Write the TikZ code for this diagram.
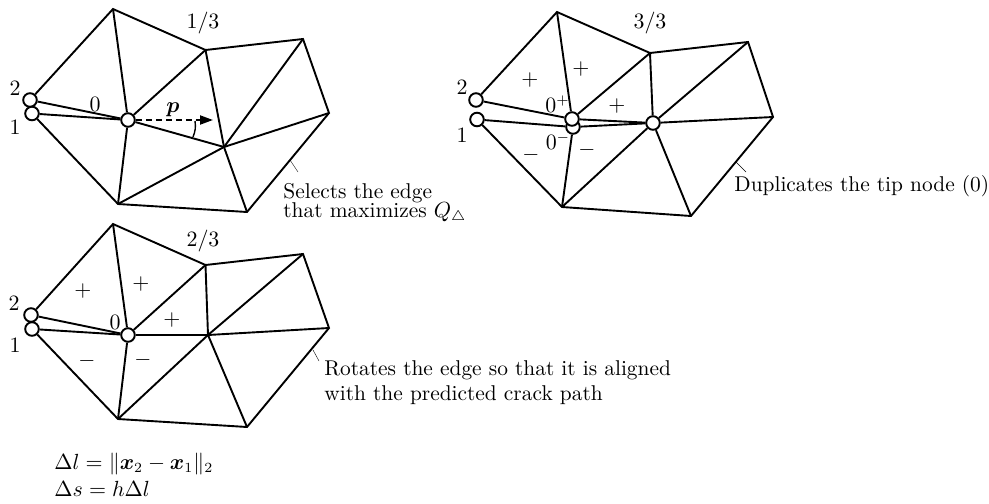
\documentclass[tikz,border=0pt]{standalone}
\usepackage{amsmath,amssymb,bm}
\usetikzlibrary{arrows.meta}
\tikzset{
  crack/.style={circle,draw,fill=white,line width=0.95pt,minimum size=6.8pt,inner sep=0pt},
  edge/.style={line width=0.95pt},
  leader/.style={line width=0.2pt},
  lbl/.style={inner sep=0pt,font=\fontsize{10.7}{13}\selectfont},
  note/.style={inner sep=0pt,anchor=base west,font=\fontsize{10.7}{13}\selectfont}
}
\begin{document}
\begin{tikzpicture}[x=0.5pt,y=-0.5pt]
\useasboundingbox (0,0) rectangle (989,503);

% step 1/3
\coordinate (a1) at (113,9);
\coordinate (b1) at (205.5,50);
\coordinate (c1) at (303,39);
\coordinate (d1) at (329,113);
\coordinate (e1) at (247,212);
\coordinate (f1) at (118,204);
\coordinate (g1) at (224,147);
\node[crack] (two1) at (30,100) {};
\node[crack] (one1) at (32,113.5) {};
\node[crack] (tip1) at (128,120) {};
\draw[edge] (two1) -- (a1) -- (b1) -- (c1) -- (d1) -- (e1) -- (f1) -- (one1);
\draw[edge] (two1) -- (tip1);
\draw[edge] (one1) -- (tip1);
\draw[edge] (a1) -- (tip1);
\draw[edge] (b1) -- (tip1);
\draw[edge] (f1) -- (tip1);
\draw[edge] (g1) -- (tip1);
\draw[edge] (b1) -- (g1);
\draw[edge] (c1) -- (g1);
\draw[edge] (d1) -- (g1);
\draw[edge] (e1) -- (g1);
\draw[edge] (f1) -- (g1);
\coordinate (p1) at (213,120);
\draw[edge,densely dashed,-{Triangle[length=6.5pt,width=4.5pt]}] (tip1) -- (p1);
\coordinate (s1) at (193,137);
\coordinate (s2) at (195,121);
\draw[line width=0.7pt] (s1) to[bend right=15] (s2);
\node[lbl] (n13) at (203,23) {$1/3$};
\node[lbl] at (15,88) {$2$};
\node[lbl] at (15,127) {$1$};
\node[lbl] at (95,104) {$0$};
\node[lbl] at (173,110) {$\bm{p}$};
\coordinate (q1) at (290,160);
\coordinate (q2) at (298,172);
\draw[leader] (q1) -- (q2);
\node[note] (sel1) at (283,198) {Selects the edge};
\node[note] (sel2) at (283,217) {that maximizes $Q_\triangle$};

% step 3/3
\coordinate (a3) at (557,12);
\coordinate (b3) at (650,53);
\coordinate (c3) at (748,42);
\coordinate (d3) at (773,117);
\coordinate (e3) at (691,216);
\coordinate (f3) at (562,207);
\node[crack] (two3) at (476,100) {};
\node[crack] (one3) at (477,119.5) {};
\node[crack] (low3) at (573,127) {};
\node[crack] (upp3) at (572,119) {};
\node[crack] (tip3) at (653,123) {};
\draw[edge] (two3) -- (a3) -- (b3) -- (c3) -- (d3) -- (e3) -- (f3) -- (one3);
\draw[edge] (two3) -- (upp3);
\draw[edge] (one3) -- (low3);
\draw[edge] (a3) -- (upp3);
\draw[edge] (b3) -- (upp3);
\draw[edge] (upp3) -- (tip3);
\draw[edge] (low3) -- (tip3);
\draw[edge] (f3) -- (low3);
\draw[edge] (b3) -- (tip3);
\draw[edge] (c3) -- (tip3);
\draw[edge] (d3) -- (tip3);
\draw[edge] (e3) -- (tip3);
\draw[edge] (f3) -- (tip3);
\node[lbl] at (650,23) {$3/3$};
\node[lbl] at (462,87) {$2$};
\node[lbl] at (462,135) {$1$};
\node[lbl] at (557.5,104) {$0^{+}$};
\node[lbl] at (558,141) {$0^{-}$};
\node[lbl] at (530,80) {$+$};
\node[lbl] at (581,69) {$+$};
\node[lbl] at (617,106) {$+$};
\node[lbl] at (531,155) {$-$};
\node[lbl] at (587,150) {$-$};
\coordinate (q3) at (736,162);
\coordinate (q4) at (746,172);
\draw[leader] (q3) -- (q4);
\node[note] (dup) at (734,191) {Duplicates the tip node (0)};

% step 2/3
\coordinate (a2) at (113,224);
\coordinate (b2) at (205.5,265);
\coordinate (c2) at (303,254);
\coordinate (d2) at (329,328);
\coordinate (e2) at (247,427);
\coordinate (f2) at (118,419);
\coordinate (g2) at (208,335);
\node[crack] (two2) at (31,315) {};
\node[crack] (one2) at (32,329) {};
\node[crack] (tip2) at (128,335) {};
\draw[edge] (two2) -- (a2) -- (b2) -- (c2) -- (d2) -- (e2) -- (f2) -- (one2);
\draw[edge] (two2) -- (tip2);
\draw[edge] (one2) -- (tip2);
\draw[edge] (a2) -- (tip2);
\draw[edge] (b2) -- (tip2);
\draw[edge] (f2) -- (tip2);
\draw[edge] (g2) -- (tip2);
\draw[edge] (b2) -- (g2);
\draw[edge] (c2) -- (g2);
\draw[edge] (d2) -- (g2);
\draw[edge] (e2) -- (g2);
\draw[edge] (f2) -- (g2);
\node[lbl] at (203,241) {$2/3$};
\node[lbl] at (14,303) {$2$};
\node[lbl] at (15,345) {$1$};
\node[lbl] at (115,322) {$0$};
\node[lbl] at (83,291) {$+$};
\node[lbl] at (141,284) {$+$};
\node[lbl] at (172,320) {$+$};
\node[lbl] at (87,361) {$-$};
\node[lbl] at (143,360) {$-$};
\coordinate (q5) at (313,350);
\coordinate (q6) at (319,361);
\draw[leader] (q5) -- (q6);
\node[note] (rot1) at (324,375) {Rotates the edge so that it is aligned};
\node[note] (rot2) at (324,400) {with the predicted crack path};

\node[note] (dl) at (54,469) {$\Delta l = \lVert\bm{x}_2-\bm{x}_1\rVert_2$};
\node[note] (ds) at (54,496) {$\Delta s = h\Delta l$};
\end{tikzpicture}
\end{document}
